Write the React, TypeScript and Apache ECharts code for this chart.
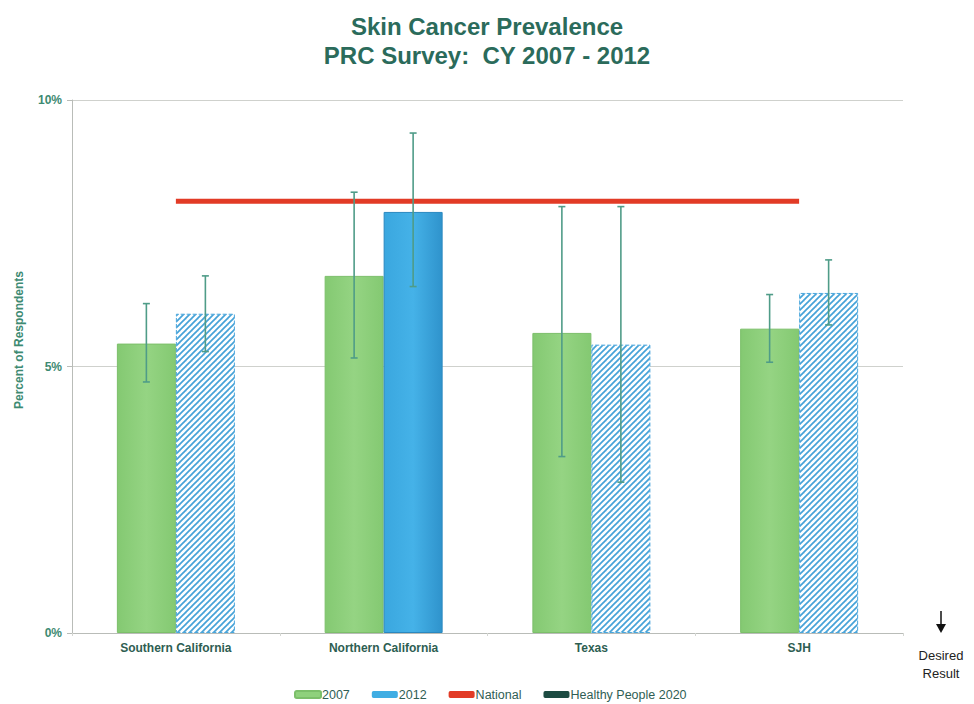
import React, { useEffect, useRef } from "react";
import * as echarts from "echarts";

const categories = ["Southern California", "Northern California", "Texas", "SJH"];
const values2007 = [5.43, 6.7, 5.63, 5.71];
const values2012 = [5.99, 7.9, 5.41, 6.38];
const err2007Low = [4.71, 5.16, 3.31, 5.08];
const err2007High = [6.18, 8.27, 8.0, 6.35];
const err2012Low = [5.28, 6.5, 2.83, 5.78];
const err2012High = [6.7, 9.38, 8.0, 7.0];
const national = [8.1, 8.1, 8.1, 8.1];
const solid2012 = [false, true, false, false];
const yTicks = [0, 5, 10];

function makeStripe(): string {
  const c = document.createElement("canvas");
  const s = 6;
  c.width = s;
  c.height = s;
  const ctx = c.getContext("2d");
  if (!ctx) return "";
  ctx.fillStyle = "#ffffff";
  ctx.fillRect(0, 0, s, s);
  ctx.strokeStyle = "#45a2d8";
  ctx.lineWidth = 1.7;
  const seg = (x1: number, y1: number, x2: number, y2: number) => {
    ctx.beginPath();
    ctx.moveTo(x1, y1);
    ctx.lineTo(x2, y2);
    ctx.stroke();
  };
  seg(-1, s + 1, s + 1, -1);
  seg(-s / 2 - 2, s / 2 + 2, s / 2 + 2, -s / 2 - 2);
  seg(s / 2 - 2, s * 1.5 + 2, s * 1.5 + 2, s / 2 - 2);
  return c.toDataURL();
}

export default function App() {
  const ref = useRef<HTMLDivElement>(null);
  useEffect(() => {
    if (!ref.current) return;
    const chart = echarts.init(ref.current, undefined, { renderer: "svg" });
    const stripe = makeStripe();
    const BAR_W = 59;
    const greenGrad = new echarts.graphic.LinearGradient(0, 0, 1, 0, [
      { offset: 0, color: "#84c972" },
      { offset: 0.5, color: "#95d483" },
      { offset: 1, color: "#84c972" },
    ]);
    const blueGrad = new echarts.graphic.LinearGradient(0, 0, 1, 0, [
      { offset: 0, color: "#3aa7df" },
      { offset: 0.5, color: "#45b2e8" },
      { offset: 1, color: "#2f93cc" },
    ]);
    const errData = (lo: number[], hi: number[]) => lo.map((l, i) => [i, l, hi[i]]);
    const errRender = (offset: number) => (params: any, api: any) => {
      const i = api.value(0);
      const lo = api.coord([i, api.value(1)]);
      const hi = api.coord([i, api.value(2)]);
      const x = lo[0] + offset;
      const cap = 3.5;
      const style = { stroke: "#4f9c88", lineWidth: 1.6 };
      return {
        type: "group",
        children: [
          { type: "line", shape: { x1: x, y1: lo[1], x2: x, y2: hi[1] }, style },
          { type: "line", shape: { x1: x - cap, y1: hi[1], x2: x + cap, y2: hi[1] }, style },
          { type: "line", shape: { x1: x - cap, y1: lo[1], x2: x + cap, y2: lo[1] }, style },
        ],
      };
    };
    const font = "Liberation Sans, Arial, sans-serif";
    chart.setOption({
      animation: false,
      backgroundColor: "#ffffff",
      textStyle: { fontFamily: font },
      title: {
        text: "Skin Cancer Prevalence\nPRC Survey:  CY 2007 - 2012",
        left: "center",
        top: 7,
        textStyle: {
          fontSize: 24,
          fontWeight: "bold",
          color: "#2b6b5b",
          lineHeight: 29,
          fontFamily: font,
        },
      },
      legend: {
        top: 683,
        left: 289,
        itemWidth: 26,
        itemHeight: 7,
        itemGap: 22,
        icon: "roundRect",
        textStyle: { fontSize: 12.5, color: "#2f5e54", padding: [0, 0, 0, -4] },
        data: [
          { name: "2007", itemStyle: { color: "#8fd17c" } },
          { name: "2012", itemStyle: { color: "#40ade3" } },
          { name: "National", itemStyle: { color: "#e23b26" } },
          { name: "Healthy People 2020", itemStyle: { color: "#1d4b42" } },
        ],
      },
      grid: { left: 72, right: 71, top: 100, bottom: 71 },
      xAxis: {
        type: "category",
        data: categories,
        axisLine: { lineStyle: { color: "#b9bcb8" } },
        axisTick: { show: true, length: 3, lineStyle: { color: "#d4d6d2" } },
        axisLabel: { fontSize: 12, fontWeight: "bold", color: "#2e5e52", margin: 9 },
      },
      yAxis: {
        type: "value",
        min: 0,
        max: 10,
        interval: 5,
        axisLine: { show: true, lineStyle: { color: "#b9bcb8" } },
        axisTick: { show: true, length: 5, lineStyle: { color: "#b9bcb8" } },
        axisLabel: {
          fontSize: 12,
          fontWeight: "bold",
          color: "#3d8a72",
          margin: 10,
          formatter: (v: number) => (yTicks.includes(v) ? v + "%" : ""),
        },
        splitLine: { lineStyle: { color: "#cfd1cd", width: 1.2 } },
      },
      series: [
        {
          name: "2007",
          type: "bar",
          barWidth: BAR_W,
          barGap: "0%",
          data: values2007,
          itemStyle: { color: greenGrad, borderColor: "#7cbf6a", borderWidth: 1 },
        },
        {
          name: "2012",
          type: "bar",
          barWidth: BAR_W,
          barGap: "0%",
          data: values2012.map((v, i) =>
            solid2012[i]
              ? { value: v, itemStyle: { color: blueGrad, borderColor: "#2a88c0", borderWidth: 1 } }
              : {
                  value: v,
                  itemStyle: {
                    color: { image: stripe, repeat: "repeat" },
                    borderColor: "#4aa6dc",
                    borderWidth: 1,
                    borderType: "dashed",
                  },
                }
          ),
        },
        {
          name: "National",
          type: "line",
          data: national,
          symbol: "none",
          color: "#e23b26",
          lineStyle: { width: 5, color: "#e23b26" },
          z: 5,
        },
        {
          name: "Healthy People 2020",
          type: "line",
          data: [],
          symbol: "none",
          color: "#1d4b42",
          lineStyle: { width: 5, color: "#1d4b42" },
        },
        {
          type: "custom",
          name: "err2007",
          data: errData(err2007Low, err2007High),
          encode: { x: 0, y: [1, 2] },
          renderItem: errRender(-BAR_W / 2),
          z: 10,
        },
        {
          type: "custom",
          name: "err2012",
          data: errData(err2012Low, err2012High),
          encode: { x: 0, y: [1, 2] },
          renderItem: errRender(BAR_W / 2),
          z: 10,
        },
      ],
      graphic: [
        {
          type: "text",
          x: 19,
          y: 340,
          rotation: Math.PI / 2,
          style: {
            text: "Percent of Respondents",
            align: "center",
            verticalAlign: "middle",
            fontSize: 12,
            fontWeight: "bold",
            fill: "#3d8a72",
            fontFamily: font,
          },
        },
        {
          type: "line",
          shape: { x1: 941, y1: 611, x2: 941, y2: 626 },
          style: { stroke: "#111", lineWidth: 1.5 },
        },
        {
          type: "polygon",
          shape: { points: [[936, 624], [946, 624], [941, 633]] },
          style: { fill: "#111" },
        },
        {
          type: "text",
          x: 941,
          y: 646,
          style: {
            text: "Desired\nResult",
            align: "center",
            verticalAlign: "top",
            fontSize: 13,
            lineHeight: 18,
            fill: "#222",
            fontFamily: font,
          },
        },
      ],
    });
    return () => chart.dispose();
  }, []);
  return <div ref={ref} style={{ width: 974, height: 704, position: "absolute", left: 0, top: 0 }} />;
}
